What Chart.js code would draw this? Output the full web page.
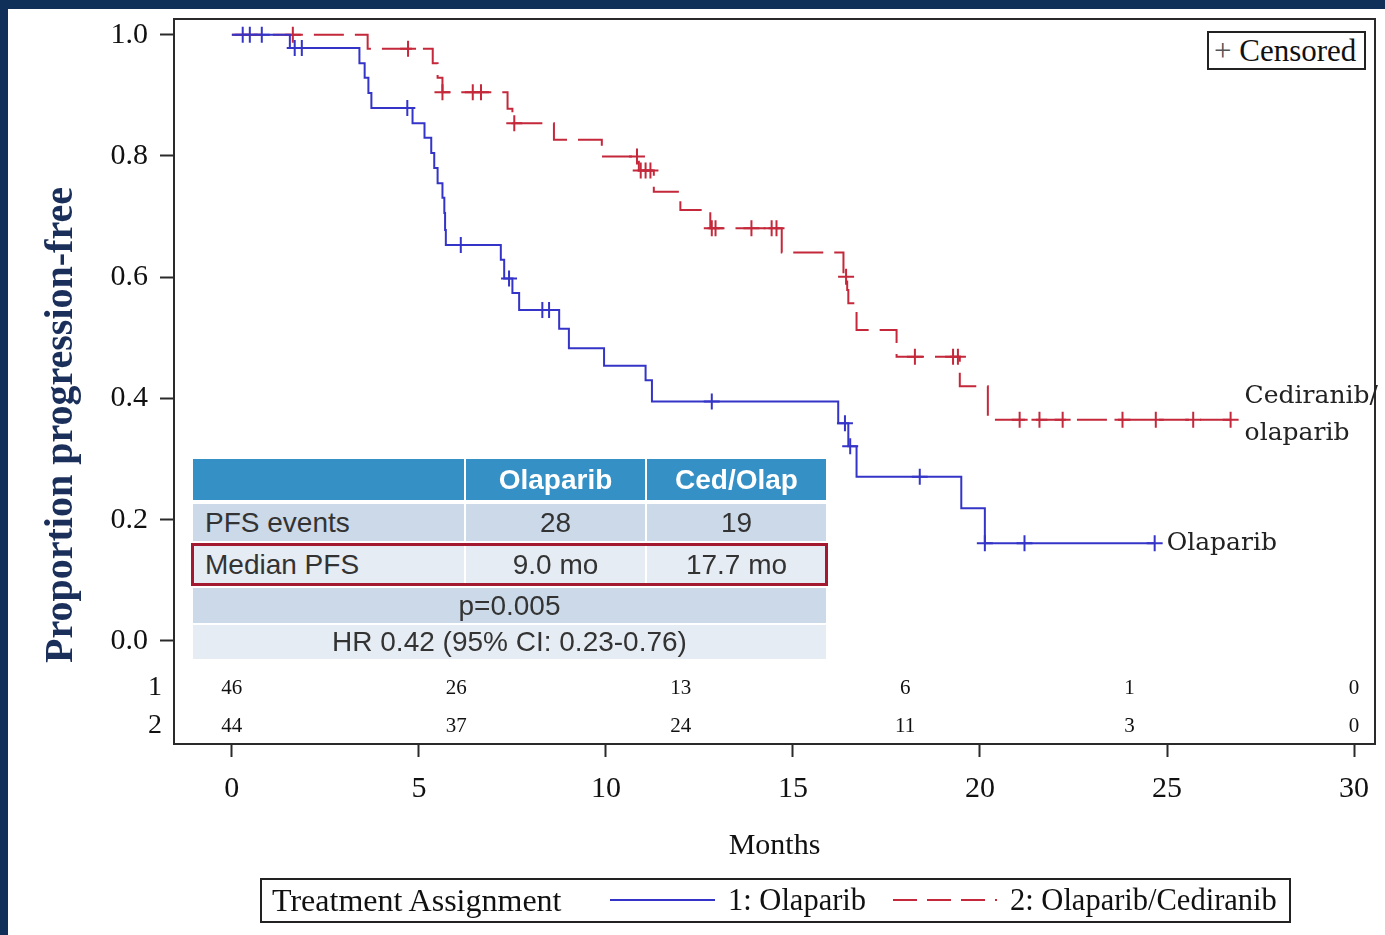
<!DOCTYPE html>
<html>
<head>
<meta charset="utf-8">
<script src="https://cdn.jsdelivr.net/npm/chart.js@4.4.1/dist/chart.umd.min.js"></script>
<style>
  html, body { margin:0; padding:0; background:#fff; }
  #wrap { position:relative; width:1385px; height:935px; overflow:hidden; background:#fff; }
  #c { position:absolute; left:0; top:0; }
  .band { position:absolute; background:#10305a; }
  .cell { position:absolute; display:flex; align-items:center; box-sizing:border-box;
          font-family:'Liberation Sans', Arial, sans-serif; font-size:28px; color:#333; }
  .hdr { background:#3590c6; color:#fff; font-weight:bold; justify-content:center; }
  .dk { background:#cbd9e8; }
  .lt { background:#e6ecf3; }
  .ctr { justify-content:center; }
  .serif { position:absolute; font-family:'Liberation Serif', 'Times New Roman', serif; color:#111; white-space:nowrap; }
</style>
</head>
<body>
<div id="wrap">
  <canvas id="c" width="1385" height="935"></canvas>
  <div class="band" style="left:0;top:0;width:1385px;height:9px;"></div>
  <div class="band" style="left:0;top:0;width:8px;height:935px;"></div>

  <!-- Censored key -->
  <div style="position:absolute;left:1207px;top:31px;width:159px;height:39px;border:2px solid #222;box-sizing:border-box;background:#fff;"></div>
  <div class="serif" style="left:1214px;top:31px;height:39px;line-height:39px;font-size:31px;"><span style="color:#555">+</span> Censored</div>

  <!-- summary table -->
  <div class="cell hdr" style="left:193px;top:459px;width:271px;height:41px;"></div>
  <div class="cell hdr" style="left:466px;top:459px;width:179px;height:41px;">Olaparib</div>
  <div class="cell hdr" style="left:647px;top:459px;width:179px;height:41px;">Ced/Olap</div>

  <div class="cell dk" style="left:193px;top:504px;width:271px;height:37px;padding-left:12px;">PFS events</div>
  <div class="cell dk ctr" style="left:466px;top:504px;width:179px;height:37px;">28</div>
  <div class="cell dk ctr" style="left:647px;top:504px;width:179px;height:37px;">19</div>

  <div class="cell lt" style="left:193px;top:546px;width:271px;height:37px;padding-left:12px;">Median PFS</div>
  <div class="cell lt ctr" style="left:466px;top:546px;width:179px;height:37px;">9.0 mo</div>
  <div class="cell lt ctr" style="left:647px;top:546px;width:179px;height:37px;">17.7 mo</div>
  <div style="position:absolute;left:191px;top:543px;width:637px;height:43px;border:3px solid #a3192f;box-sizing:border-box;"></div>

  <div class="cell dk ctr" style="left:193px;top:588px;width:633px;height:35px;">p=0.005</div>
  <div class="cell lt ctr" style="left:193px;top:625px;width:633px;height:34px;">HR 0.42 (95% CI: 0.23-0.76)</div>

  <!-- bottom legend -->
  <div style="position:absolute;left:260px;top:878px;width:1031px;height:45px;border:2px solid #222;box-sizing:border-box;"></div>
  <div class="serif" style="left:272px;top:878px;height:45px;line-height:45px;font-size:32px;">Treatment Assignment</div>
  <svg style="position:absolute;left:0;top:0;" width="1385" height="935">
    <line x1="610" y1="900" x2="715" y2="900" stroke="#3434c8" stroke-width="2"/>
    <line x1="893" y1="900" x2="997" y2="900" stroke="#c4283a" stroke-width="2" stroke-dasharray="24 10"/>
  </svg>
  <div class="serif" style="left:728px;top:878px;height:45px;line-height:45px;font-size:30.5px;">1: Olaparib</div>
  <div class="serif" style="left:1010px;top:878px;height:45px;line-height:45px;font-size:30.5px;">2: Olaparib/Cediranib</div>
</div>

<script>
// ---- data ----
const olapTimes = [0, 1.55, 3.41, 3.55, 3.65, 3.73, 4.83, 5.15, 5.33, 5.41, 5.50, 5.63, 5.68, 5.70, 5.72, 7.19, 7.28, 7.50, 7.68, 8.75, 9.01, 9.95, 11.06, 11.23, 16.21, 16.48, 16.70, 19.50, 20.13, 24.67];
const olapSurv  = [1.0, 0.978, 0.953, 0.929, 0.904, 0.879, 0.854, 0.830, 0.805, 0.780, 0.755, 0.731, 0.706, 0.678, 0.653, 0.629, 0.598, 0.574, 0.546, 0.515, 0.483, 0.454, 0.430, 0.395, 0.359, 0.321, 0.271, 0.219, 0.161, 0.161];
const olapCensTimes = [0.29, 0.48, 0.80, 1.68, 1.87, 4.69, 6.12, 7.41, 8.30, 8.48, 12.83, 16.39, 16.53, 18.39, 20.13, 21.19, 24.67];
const olapCensSurv  = [1.0, 1.0, 1.0, 0.978, 0.978, 0.879, 0.653, 0.598, 0.546, 0.546, 0.395, 0.359, 0.321, 0.271, 0.161, 0.161, 0.161];

const cedTimes = [0, 3.63, 5.37, 5.50, 5.63, 7.37, 7.50, 8.61, 9.89, 10.88, 11.28, 11.99, 12.79, 14.70, 16.35, 16.45, 16.48, 16.70, 17.77, 19.46, 20.21, 26.70];
const cedSurv  = [1.0, 0.977, 0.953, 0.929, 0.905, 0.878, 0.854, 0.827, 0.799, 0.776, 0.741, 0.711, 0.681, 0.641, 0.601, 0.579, 0.557, 0.513, 0.469, 0.420, 0.365, 0.365];
const cedCensTimes = [1.63, 4.71, 5.63, 6.44, 6.66, 7.55, 10.83, 10.93, 11.06, 11.19, 12.83, 12.93, 13.89, 14.43, 14.56, 16.42, 18.26, 19.28, 19.41, 21.06, 21.59, 22.21, 23.81, 24.70, 25.70, 26.70];
const cedCensSurv  = [1.0, 0.977, 0.905, 0.905, 0.905, 0.854, 0.799, 0.776, 0.776, 0.776, 0.681, 0.681, 0.681, 0.681, 0.681, 0.601, 0.469, 0.469, 0.469, 0.365, 0.365, 0.365, 0.365, 0.365, 0.365, 0.365];

const riskTimes = [0, 6, 12, 18, 24, 30];
const riskOlap  = [46, 26, 13, 6, 1, 0];
const riskCed   = [44, 37, 24, 11, 3, 0];
const riskRowLabels = ['1', '2'];

const xTickValues = [0, 5, 10, 15, 20, 25, 30];
const yTickValues = [0, 0.2, 0.4, 0.6, 0.8, 1.0];

const BLUE = '#3434c8';
const RED = '#c4283a';
const SERIF = "'Liberation Serif', 'Times New Roman', serif";

const pts = (xs, ys) => xs.map((x, i) => ({x: x, y: ys[i]}));

const extras = {
  id: 'extras',
  beforeDatasetsDraw(chart) {
    const {ctx, chartArea: a} = chart;
    ctx.save();
    ctx.strokeStyle = '#2a2a2a';
    ctx.lineWidth = 2;
    ctx.strokeRect(a.left, a.top, a.right - a.left, a.bottom - a.top);
    ctx.restore();
  },
  afterDraw(chart) {
    const {ctx, chartArea: a, scales: {x, y}} = chart;
    ctx.save();
    // y-axis title
    ctx.translate(62, 425);
    ctx.rotate(-Math.PI / 2);
    ctx.font = 'bold 40px ' + SERIF;
    ctx.fillStyle = '#1b2f5b';
    ctx.textAlign = 'center';
    ctx.textBaseline = 'middle';
    ctx.fillText('Proportion progression-free', 0, 0);
    ctx.restore();

    // numbers at risk
    ctx.save();
    ctx.fillStyle = '#111';
    ctx.textBaseline = 'middle';
    const rowY = [a.bottom - 56, a.bottom - 18];
    ctx.font = '28px ' + SERIF;
    ctx.textAlign = 'right';
    riskRowLabels.forEach((l, i) => ctx.fillText(l, a.left - 12, rowY[i]));
    ctx.font = '21px ' + SERIF;
    ctx.textAlign = 'center';
    riskTimes.forEach((t, i) => {
      const px = x.getPixelForValue(t);
      ctx.fillText(String(riskOlap[i]), px, rowY[0]);
      ctx.fillText(String(riskCed[i]), px, rowY[1]);
    });

    // curve end labels
    ctx.font = '25px DejaVu Serif';
    ctx.fillStyle = '#222';
    ctx.textAlign = 'left';
    const ce = cedTimes.length - 1;
    const cx = x.getPixelForValue(cedTimes[ce]) + 14;
    const cy = y.getPixelForValue(cedSurv[ce]);
    ctx.fillText('Cediranib/', cx, cy - 23);
    ctx.fillText('olaparib', cx, cy + 14);
    const oe = olapTimes.length - 1;
    ctx.fillText('Olaparib', x.getPixelForValue(olapTimes[oe]) + 12, y.getPixelForValue(olapSurv[oe]));
    ctx.restore();
  }
};

new Chart(document.getElementById('c'), {
  type: 'line',
  data: {
    datasets: [
      {label: '1: Olaparib', data: pts(olapTimes, olapSurv), stepped: true, borderColor: BLUE, borderWidth: 2, pointRadius: 0, fill: false},
      {label: '2: Olaparib/Cediranib', data: pts(cedTimes, cedSurv), stepped: true, borderColor: RED, borderWidth: 2, borderDash: [30, 11], pointRadius: 0, fill: false},
      {label: 'cens1', data: pts(olapCensTimes, olapCensSurv), showLine: false, pointStyle: 'cross', pointRadius: 8, borderColor: BLUE, borderWidth: 2},
      {label: 'cens2', data: pts(cedCensTimes, cedCensSurv), showLine: false, pointStyle: 'cross', pointRadius: 8, borderColor: RED, borderWidth: 2}
    ]
  },
  options: {
    responsive: false,
    animation: false,
    layout: {padding: {left: 0, right: 4, top: 19, bottom: 0}},
    plugins: {legend: {display: false}, tooltip: {enabled: false}},
    scales: {
      x: {
        type: 'linear', min: -1.547, max: 30.56,
        afterBuildTicks: s => { s.ticks = xTickValues.map(v => ({value: v})); },
        afterFit: s => { s.height = 191; s.paddingLeft = 0; s.paddingRight = 0; },
        grid: {display: true, drawOnChartArea: false, drawTicks: true, tickLength: 13, tickColor: '#2a2a2a', tickWidth: 2},
        border: {display: false},
        ticks: {font: {family: SERIF, size: 30}, color: '#111', padding: 14, maxRotation: 0, autoSkip: false},
        title: {display: true, text: 'Months', font: {family: SERIF, size: 30}, color: '#111', padding: {top: 0, bottom: 71}}
      },
      y: {
        type: 'linear', min: -0.17, max: 1.026,
        afterBuildTicks: s => { s.ticks = yTickValues.map(v => ({value: v})); },
        afterFit: s => { s.width = 174; s.paddingTop = 0; s.paddingBottom = 0; },
        grid: {display: true, drawOnChartArea: false, drawTicks: true, tickLength: 14, tickColor: '#2a2a2a', tickWidth: 2},
        border: {display: false},
        ticks: {font: {family: SERIF, size: 30}, color: '#111', padding: 12, autoSkip: false, callback: v => Number(v).toFixed(1)}
      }
    }
  },
  plugins: [extras]
});
</script>
</body>
</html>
